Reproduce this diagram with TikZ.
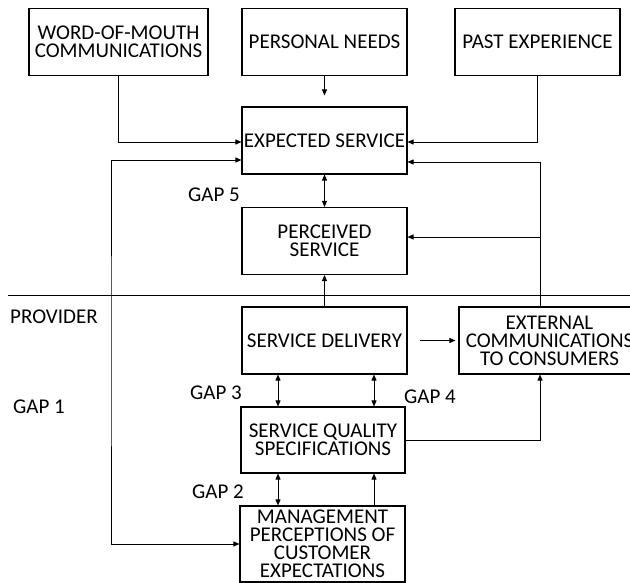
\documentclass[tikz,border=0pt]{standalone}
\usepackage{fontspec}
\setmainfont{Carlito}
\usetikzlibrary{arrows.meta,positioning}
\tikzset{
  box/.style={draw, line width=1.1pt, minimum width=165pt, minimum height=67pt,
    inner sep=0pt, align=center, font=\fontsize{21}{18}\selectfont},
  gaplabel/.style={anchor=west, inner sep=0pt, font=\fontsize{21}{18}\selectfont},
  arr/.style={-{Triangle[length=6pt,width=5pt]}, line width=0.9pt},
  dbl/.style={{Triangle[length=6pt,width=5pt]}-{Triangle[length=6pt,width=5pt]}, line width=0.9pt}
}

\begin{document}
\begin{tikzpicture}[x=1pt, y=-1pt]
            \clip (0,0) rectangle (630,583);
            % consumer side
            \node[box, minimum width=179pt] (wom) at (118.5,42) {WORD-OF-MOUTH\\COMMUNICATIONS};
            \node[box] (needs) at (324.5,42) {PERSONAL NEEDS};
            \node[box] (past) at (537.5,42) {PAST EXPERIENCE};
            \node[box] (expected) at (324.5,140.5) {EXPECTED SERVICE};
            \node[box] (perceived) at (324.5,241) {PERCEIVED\\SERVICE};
            % provider side
            \node[box] (delivery) at (324.5,340.5) {SERVICE DELIVERY};
            \node[box, minimum width=181pt] (extcomm) at (549.5,340.5) {EXTERNAL\\COMMUNICATIONS\\TO CONSUMERS};
            \node[box, minimum width=164pt, minimum height=66pt] (specs) at (323,440) {SERVICE QUALITY\\SPECIFICATIONS};
            \node[box, minimum height=76pt] (mgmt) at (322.5,544) {MANAGEMENT\\PERCEPTIONS OF\\CUSTOMER\\EXPECTATIONS};

            \node[gaplabel] (provider) at (10,317) {PROVIDER};
            \node[gaplabel] (gap1) at (13,407) {GAP 1};
            \node[gaplabel] (gap2) at (192,492) {GAP 2};
            \node[gaplabel] (gap3) at (190,393) {GAP 3};
            \node[gaplabel] (gap4) at (404,397) {GAP 4};
            \node[gaplabel] (gap5) at (188,195) {GAP 5};

            \coordinate (leftrail) at (111,350);
            \coordinate (rail) at (540,0);
            \coordinate (g3) at (278,0);
            \coordinate (g4) at (374,0);

            \draw[line width=1pt] (8,295) -- (630,295);

            \draw[arr] (wom.south) |- ([yshift=-1.5pt]expected.west);
            \draw[arr] (needs.south) -- ([yshift=11pt]expected.north);
            \draw[arr] (past.south) |- ([yshift=-1.5pt]expected.east);
            \draw[arr] (extcomm.north -| rail) |- ([yshift=-21.5pt]expected.east);
            \draw[arr] ([yshift=4pt]perceived.east -| rail) -- ([yshift=4pt]perceived.east);
            \draw[dbl] ([yshift=-19.5pt]expected.west) -| (leftrail) |- (mgmt.west);
            \draw[dbl] (expected.south) -- (perceived.north);
            \draw[arr] (delivery.north) -- (perceived.south);
            \draw[arr] ([xshift=12pt]delivery.east) -- ([xshift=-3pt]extcomm.west);
            \draw[dbl] (delivery.south -| g3) -- (specs.north -| g3);
            \draw[dbl] (delivery.south -| g4) -- (specs.north -| g4);
            \draw[dbl] (specs.south -| g3) -- (mgmt.north -| g3);
            \draw[arr] (mgmt.north -| g4) -- (specs.south -| g4);
            \draw[arr] (specs.east) -| (rail |- extcomm.south);
        \end{tikzpicture}
\end{document}
